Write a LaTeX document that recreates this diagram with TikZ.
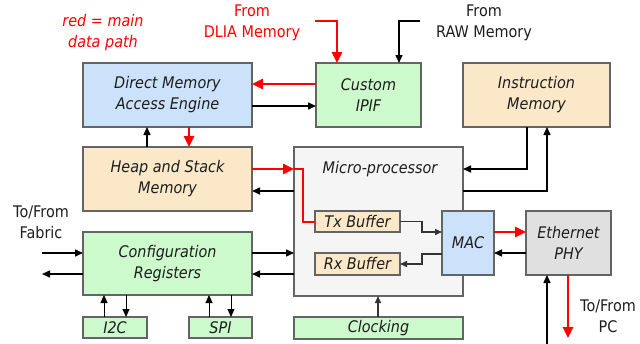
\documentclass[tikz,border=0pt]{standalone}
\usepackage{fontspec}
\setmainfont{DejaVu Sans}[FakeStretch=0.9]
\usetikzlibrary{arrows.meta,calc}
\definecolor{bluef}{RGB}{204,226,250}
\definecolor{greenf}{RGB}{204,250,204}
\definecolor{beigef}{RGB}{250,232,200}
\definecolor{grayf}{RGB}{245,245,245}
\definecolor{phyf}{RGB}{224,224,224}
\definecolor{edge}{RGB}{100,100,100}
\definecolor{txt}{RGB}{30,30,30}
\begin{document}
\begin{tikzpicture}[x=1pt,y=-1pt,
  box/.style={draw=edge,line width=1.3pt,inner sep=0pt,outer sep=0pt,align=center,
    font=\fontsize{16}{21}\selectfont\itshape,text=txt},
  lbl/.style={align=center,font=\fontsize{16}{21}\selectfont,inner sep=0pt},
  blk/.style={line width=1.5pt,-{Triangle[length=8pt,width=7pt]}},
  redarr/.style={line width=2.5pt,red,-{Triangle[length=11pt,width=10pt]}},
  redline/.style={line width=2pt,red},
  thin/.style={line width=1.4pt,draw=black!80,-{Triangle[length=7pt,width=6pt]}}]
\useasboundingbox (0,0) rectangle (640,343);
% boxes
\node[box,fill=bluef,minimum width=169pt,minimum height=64pt] (dma) at (167.5,95) {Direct Memory\\Access Engine};
\node[box,fill=greenf,minimum width=105pt,minimum height=64pt] (ipif) at (368.5,95) {Custom\\IPIF};
\node[box,fill=beigef,minimum width=147pt,minimum height=64pt] (imem) at (536.5,95) {Instruction\\Memory};
\node[box,fill=beigef,minimum width=169pt,minimum height=64pt] (heap) at (167.5,179) {Heap and Stack\\Memory};
\node[box,fill=greenf,minimum width=169pt,minimum height=63pt] (cfg) at (167.5,263.5) {Configuration\\Registers};
\node[box,fill=greenf,minimum width=64pt,minimum height=21pt] (i2c) at (115,327.5) {I2C};
\node[box,fill=greenf,minimum width=63pt,minimum height=21pt] (spi) at (220.5,327.5) {SPI};
\node[box,fill=grayf,minimum width=169pt,minimum height=149pt] (micro) at (378.5,221.5) {};
\node[font=\fontsize{16}{21}\selectfont\itshape,text=txt,inner sep=0pt] (microl) at (380,169) {Micro-processor};
\node[box,fill=greenf,minimum width=169pt,minimum height=22pt] (clk) at (378.5,328) {Clocking};
\node[box,fill=beigef,minimum width=85pt,minimum height=21pt] (tx) at (357.5,221.5) {Tx Buffer};
\node[box,fill=beigef,minimum width=85pt,minimum height=22pt] (rx) at (357.5,264) {Rx Buffer};
\node[box,fill=bluef,minimum width=52pt,minimum height=64pt] (mac) at (468,243) {MAC};
\node[box,fill=phyf,minimum width=85pt,minimum height=64pt] (phy) at (568.5,243) {Ethernet\\PHY};
% labels
\node[lbl,red,font=\fontsize{16}{21}\selectfont\itshape] (legend) at (103,33) {red = main\\data path};
\node[lbl,red] (dlial) at (252,22.5) {From\\DLIA Memory};
\node[lbl,text=txt] (rawl) at (484,22.5) {From\\RAW Memory};
\node[lbl,text=txt] (fabl) at (41,222) {To/From\\Fabric};
\node[lbl,text=txt] (pcl) at (608,316.5) {To/From\\PC};
% free ends
\coordinate (dlia) at (315,21);
\coordinate (raw) at (420,21);
\coordinate (fin) at (42,253);
\coordinate (fout) at (42,274);
\coordinate (pcin) at (547,345);
\coordinate (pcout) at (568,338);
% connectors
\draw[redarr] (dlia) -| ([xshift=-31.5pt]ipif.north);
\draw[blk] (raw) -| ([xshift=30.5pt]ipif.north);
\draw[redarr] ([yshift=11pt]ipif.west) -- ([yshift=11pt]dma.east);
\draw[blk] ([yshift=-11pt]dma.east) -- ([yshift=-11pt]ipif.west);
\draw[blk] ([xshift=-20.5pt]heap.north) -- ([xshift=-20.5pt]dma.south);
\draw[redarr] ([xshift=21.5pt]dma.south) -- ([xshift=21.5pt]heap.north);
\draw[redarr] ([yshift=10pt]heap.east) -- ([yshift=52.5pt]micro.west);
\draw[redline] ([yshift=52.5pt]micro.west) -- ([yshift=52.5pt,xshift=9pt]micro.west) |- (tx.west);
\draw[blk] ([yshift=30.5pt]micro.west) -- ([yshift=-12pt]heap.east);
\draw[blk] ([yshift=10.5pt]cfg.east) -- ([yshift=-31.5pt]micro.west);
\draw[blk] ([yshift=-52.5pt]micro.west) -- ([yshift=-10.5pt]cfg.east);
\draw[blk] (fin) -- ([yshift=10.5pt]cfg.west);
\draw[blk] ([yshift=-10.5pt]cfg.west) -- (fout);
\draw[blk,line width=1pt] ([xshift=-11pt]i2c.north) -- ([xshift=-63.5pt]cfg.south);
\draw[blk,line width=1pt] ([xshift=-41.5pt]cfg.south) -- ([xshift=11pt]i2c.north);
\draw[blk,line width=1pt] ([xshift=-11.5pt]spi.north) -- ([xshift=41.5pt]cfg.south);
\draw[blk,line width=1pt] ([xshift=63.5pt]cfg.south) -- ([xshift=10.5pt]spi.north);
\draw[blk] ([xshift=-9.5pt]imem.south) |- ([yshift=52.5pt]micro.east);
\draw[blk] ([yshift=30.5pt]micro.east) -| ([xshift=10.5pt]imem.south);
\draw[thin] ([xshift=-0.5pt]clk.north) -- ([xshift=-0.5pt]micro.south);
\draw[thin] (tx.east) -- ([xshift=22pt]tx.east) |- ([yshift=11pt]mac.west);
\draw[thin] ([yshift=-11pt]mac.west) -- ([yshift=-11pt,xshift=-20pt]mac.west) |- (rx.east);
\draw[redarr] ([yshift=11pt]mac.east) -- ([yshift=11pt]phy.west);
\draw[blk] ([yshift=-10pt]phy.west) -- ([yshift=-10pt]mac.east);
\draw[blk] (pcin) -- ([xshift=-21.5pt]phy.south);
\draw[redarr] ([xshift=-0.5pt]phy.south) -- (pcout);
\end{tikzpicture}
\end{document}
